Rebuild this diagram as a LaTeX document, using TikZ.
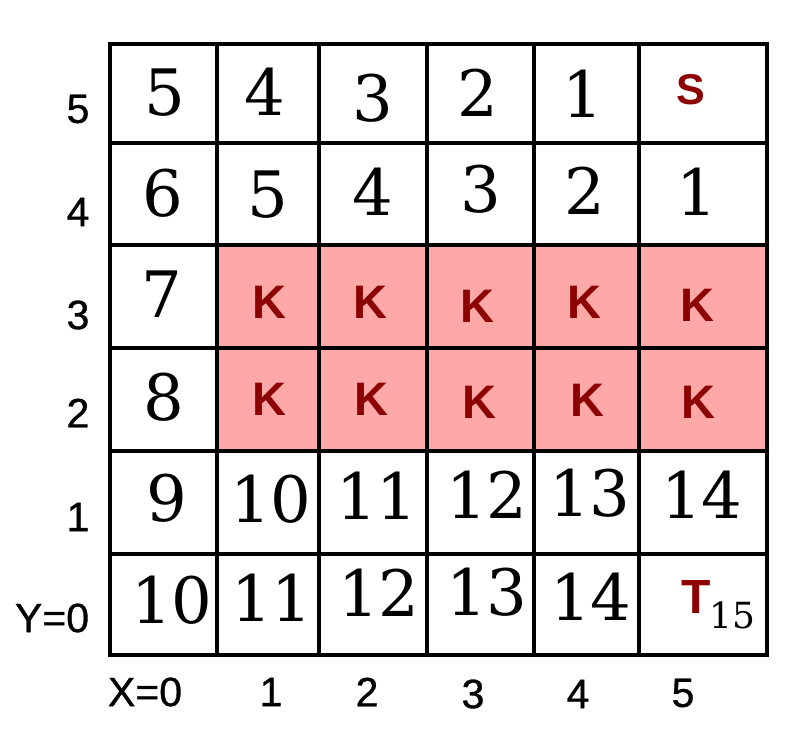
\documentclass[tikz,border=0pt]{standalone}
\usepackage{fontspec}
\setmainfont{DejaVu Serif}
\newfontfamily\labfont{Liberation Sans}
\newfontfamily\axfont[FakeBold=0.8]{Liberation Sans}
\definecolor{cellpink}{RGB}{255,168,168}
\definecolor{kred}{RGB}{140,0,0}
\begin{document}
\begin{tikzpicture}[x=1pt,y=-1pt,
  num/.style={inner sep=0pt, font=\fontsize{64}{64}\selectfont},
  sub/.style={inner sep=0pt, font=\fontsize{36}{36}\selectfont},
  kmark/.style={inner sep=0pt, text=kred, font=\labfont\bfseries\fontsize{47}{47}\selectfont},
  axlab/.style={inner sep=0pt, font=\axfont\fontsize{41}{41}\selectfont},
  gridline/.style={line width=3.4pt, line cap=rect}]
\useasboundingbox (0,0) rectangle (802,733);
\fill[cellpink] (217,245) rectangle (767,451);
\foreach \x in {110,217,319,427,534,639,767} \draw[gridline] (\x,44) -- (\x,655);
\foreach \y in {44,143,245,348,451,554,655} \draw[gridline] (110,\y) -- (767,\y);
% row Y=5
\node[num] (a0) at (165,93) {5};
\node[num] (a1) at (265,92) {4};
\node[num] (a2) at (373,98) {3};
\node[num] (a3) at (478,93) {2};
\node[num] (a4) at (583,94) {1};
\node[kmark,font=\labfont\bfseries\fontsize{43}{43}\selectfont] (a5) at (691,90) {S};
% row Y=4
\node[num] (b0) at (163,193) {6};
\node[num] (b1) at (268,195) {5};
\node[num] (b2) at (373,192) {4};
\node[num] (b3) at (481,189) {3};
\node[num] (b4) at (585,191) {2};
\node[num] (b5) at (697,192) {1};
% row Y=3
\node[num] (c0) at (162,294) {7};
\node[kmark] (c1) at (269,302) {K};
\node[kmark] (c2) at (370,302) {K};
\node[kmark] (c3) at (477,306) {K};
\node[kmark] (c4) at (584,302) {K};
\node[kmark] (c5) at (697,305) {K};
% row Y=2
\node[num] (d0) at (164,397) {8};
\node[kmark] (d1) at (269,399) {K};
\node[kmark] (d2) at (371,399) {K};
\node[kmark] (d3) at (479,402) {K};
\node[kmark] (d4) at (587,400) {K};
\node[kmark] (d5) at (698,402) {K};
% row Y=1
\node[num] (e0) at (167,498) {9};
\node[num] (e1) at (271,499) {10};
\node[num] (e2) at (377,496) {11};
\node[num] (e3) at (487,495) {12};
\node[num] (e4) at (590,493) {13};
\node[num] (e5) at (702,495) {14};
% row Y=0
\node[num] (f0) at (172,600) {10};
\node[num] (f1) at (272,598) {11};
\node[num] (f2) at (379,593) {12};
\node[num] (f3) at (487,592) {13};
\node[num] (f4) at (591,597) {14};
\node[kmark,font=\labfont\bfseries\fontsize{48}{48}\selectfont] (f5) at (696,597) {T};
\node[sub] (f5s) at (732,615) {15};
% axis labels
\node[axlab] (y5) at (78,109) {5};
\node[axlab] (y4) at (78,212) {4};
\node[axlab] (y3) at (78,315) {3};
\node[axlab] (y2) at (78,413) {2};
\node[axlab] (y1) at (78,517) {1};
\node[axlab] (y0) at (52,618) {Y=0};
\node[axlab] (x0) at (145,692) {X=0};
\node[axlab] (x1) at (271,692) {1};
\node[axlab] (x2) at (367,692) {2};
\node[axlab] (x3) at (473,694) {3};
\node[axlab] (x4) at (578,694) {4};
\node[axlab] (x5) at (683,693) {5};
\end{tikzpicture}
\end{document}
